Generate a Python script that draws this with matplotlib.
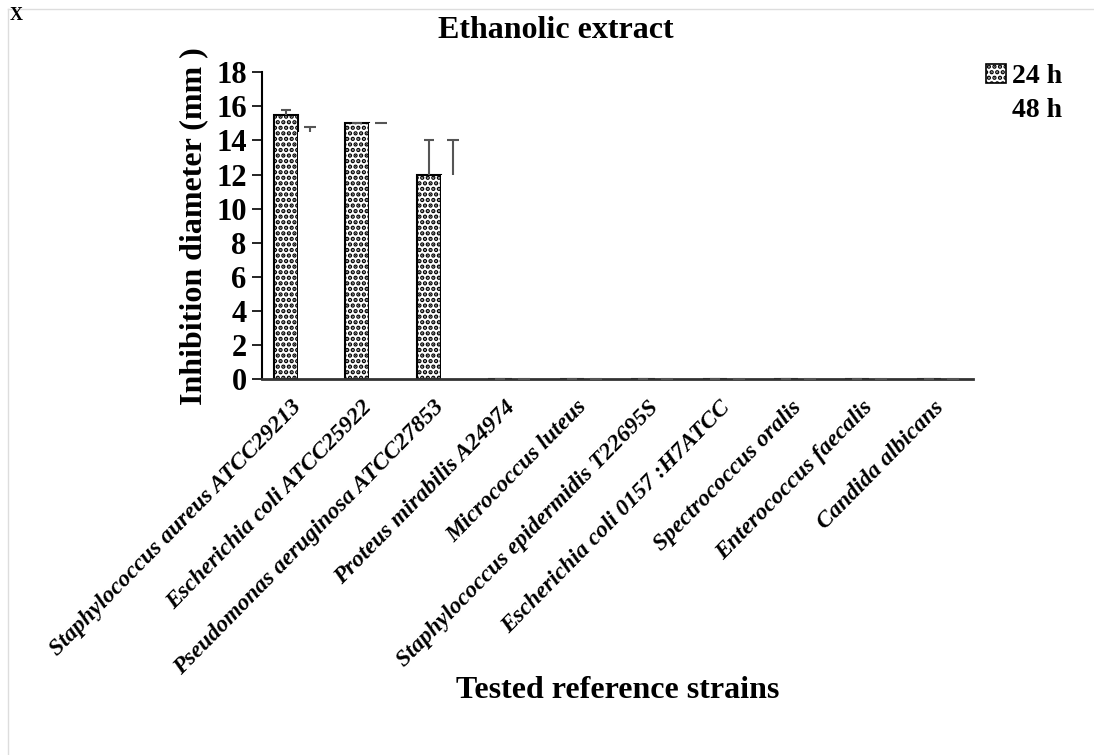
import numpy as np
import matplotlib
matplotlib.use('Agg')
import matplotlib.pyplot as plt
from matplotlib.patches import Patch
from matplotlib.lines import Line2D

plt.rcParams['font.family'] = 'Liberation Serif'
plt.rcParams['hatch.linewidth'] = 2.2

strains = ['Staphylococcus aureus ATCC29213', 'Escherichia coli ATCC25922',
           'Pseudomonas aeruginosa ATCC27853', 'Proteus mirabilis A24974',
           'Micrococcus luteus', 'Staphylococcus epidermidis T22695S',
           'Escherichia coli 0157 :H7ATCC', 'Spectrococcus oralis',
           'Enterococcus faecalis', 'Candida albicans']
h24 = [15.5, 15, 12, 0, 0, 0, 0, 0, 0, 0]
h24_err = [0.3, 0, 2, 0, 0, 0, 0, 0, 0, 0]
h48 = [14.5, 15, 12, 0, 0, 0, 0, 0, 0, 0]
h48_err = [0.3, 0, 2, 0, 0, 0, 0, 0, 0, 0]

fig = plt.figure(figsize=(10.94, 7.55), dpi=100)
ax = fig.add_axes([0.2395, 0.498, 0.65, 0.4063])

x = np.arange(len(strains))
w = 0.336
zeros = np.zeros(len(strains))

ax.bar(x - w / 2, h24, w, color='white', edgecolor='black', linewidth=1.5,
       hatch='...', zorder=2)
ax.bar(x + w / 2, h48, w, color='white', edgecolor='none', zorder=2)
# upper error only, no cap at the bar end
eb1 = ax.errorbar(x - w / 2, h24, yerr=[zeros, h24_err], fmt='none', ecolor='#555555',
                  elinewidth=1.5, capsize=3.5, capthick=1.5, zorder=3)
eb2 = ax.errorbar(x + w / 2, h48, yerr=[zeros, h48_err], fmt='none', ecolor='#555555',
                  elinewidth=1.5, capsize=4.5, capthick=1.5, zorder=3)
eb1[1][0].set_visible(False)
eb2[1][0].set_visible(False)

ax.set_xlim(-0.5, 9.45)
ax.set_ylim(0, 18)
ax.set_yticks(range(0, 19, 2))
ax.spines['top'].set_visible(False)
ax.spines['right'].set_visible(False)
ax.spines['left'].set_linewidth(1.5)
ax.spines['bottom'].set_linewidth(2)
ax.spines['bottom'].set_color('#333333')
ax.tick_params(axis='y', length=7, width=1.2, pad=4, labelsize=22)
for t in ax.get_yticklabels():
    t.set_fontweight('bold')
ax.tick_params(axis='x', length=0, pad=18)
ax.set_xticks(x)
ax.set_xticklabels(strains, rotation=45.5, ha='right', va='center',
                   rotation_mode='anchor', fontstyle='italic', fontweight='bold',
                   fontsize=17)

ax.set_ylabel('Inhibition diameter (mm )', fontsize=23, fontweight='bold', labelpad=6)
fig.text(0.5645, 0.086, 'Tested reference strains', fontsize=23, fontweight='bold',
         ha='center', va='center')
fig.text(0.508, 0.96, 'Ethanolic extract', fontsize=23, fontweight='bold',
         ha='center', va='center')

handles = [Patch(facecolor='white', edgecolor='black', hatch='...', linewidth=1.2),
           Patch(facecolor='white', edgecolor='none')]
fig.legend(handles, ['24 h', '48 h'], loc='upper left', bbox_to_anchor=(0.878, 0.949),
           frameon=False, handlelength=0.72, handleheight=0.72, handletextpad=0.25,
           labelspacing=0.3, prop={'weight': 'bold', 'size': 20})

# scan border and the cropped mark at the top-left corner
fig.add_artist(Line2D([0.0073, 0.0073], [0, 0.988], color='#dddddd', lw=1))
fig.add_artist(Line2D([0.0073, 1], [0.988, 0.988], color='#dddddd', lw=1))
fig.text(0.0085, 0.979, 'X', fontsize=13, fontweight='bold', va='center', ha='left')

fig.savefig('out.png', dpi=100)
